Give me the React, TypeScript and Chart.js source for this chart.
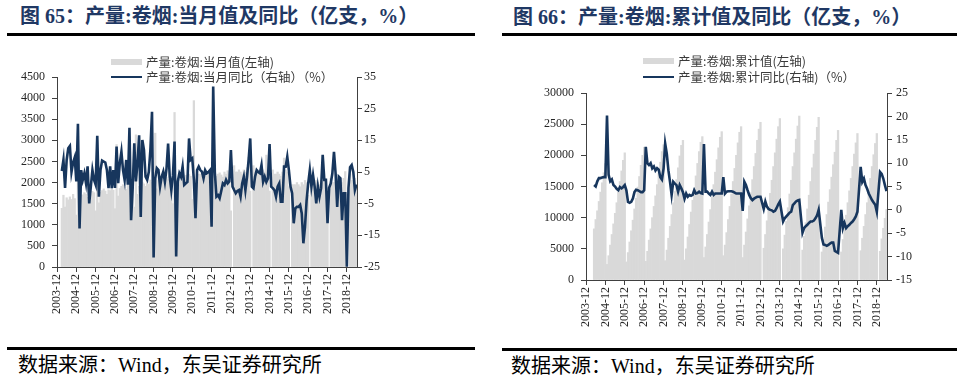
import React, { useEffect, useRef } from 'react';
import { Chart, registerables } from 'chart.js';

Chart.register(...registerables);

// ---------- categories / tick labels ----------
const xTickLabels = [
  '2003-12', '2004-12', '2005-12', '2006-12', '2007-12', '2008-12', '2009-12', '2010-12',
  '2011-12', '2012-12', '2013-12', '2014-12', '2015-12', '2016-12', '2017-12', '2018-12',
];
const leftTicksMonthly = [0, 500, 1000, 1500, 2000, 2500, 3000, 3500, 4000, 4500];
const rightTicksMonthly = [-25, -15, -5, 5, 15, 25, 35];
const leftTicksCumulative = [0, 5000, 10000, 15000, 20000, 25000, 30000];
const rightTicksCumulative = [-15, -10, -5, 0, 5, 10, 15, 20, 25];

// first month of each series
const monthlyStart = '2004-03';
const cumulativeStart = '2004-05';
const axisEnd = '2019-06';

// ---------- 图65: 当月值 (亿支) ----------
const monthlyOutput = [
  1390, 1700, 1420, 1640, 1590, 1660, 1600, 1720, 1620, 1230,
  2450, 1380, 1700, 1710, 1760, 1730, 1650, 1780, 1720, 1790, 1760, 1330,
  3000, 1520, 1770, 1810, 1850, 1800, 1720, 1830, 1810, 1880, 1820, 1380,
  2900, 1680, 1860, 1910, 1950, 1890, 1840, 1970, 1910, 1990, 1930, 1420,
  3130, 1720, 1910, 1960, 2010, 1970, 1910, 2020, 1960, 2060, 2000, 1150,
  3170, 1850, 2050, 2080, 2100, 2060, 2000, 2120, 2080, 2150, 2100, 1500,
  3660, 1500, 2100, 2150, 2150, 2100, 2050, 2170, 2120, 2200, 2150, 1600,
  3940, 1900, 2150, 2200, 2200, 2150, 2100, 2200, 2160, 2230, 2180, 1450,
  3900, 2000, 2150, 2200, 2230, 2180, 2130, 2250, 2200, 2280, 2230, 1330,
  null, 2400, 2250, 2250, 2300, 2250, 2200, 2300, 2250, 2350, 2600, 1800,
  null, 2400, 2250, 2250, 2300, 2250, 2200, 2300, 2250, 2650, 2300, 1800,
  null, 2300, 2200, 2200, 2250, 2200, 2150, 2250, 2580, 2300, 2250, 1900,
  null, 1950, 1950, 1950, 2000, 1950, 1900, 2000, 1950, 2050, 2000, 1700,
  null, 2050, 2000, 2000, 2050, 2000, 1950, 2050, 2000, 2100, 2050, 1700,
  null, 2100, 2000, 2000, 2050, 2000, 1950, 2050, 2000, 2100, 2260, 1550,
  null, 2200, 2050, 2000, 2100, 1950,
];

// 当月同比 (%)
const monthlyYoY = [
  5.3, 8.8, 0.0, 8.8, 12.5, 13.2, 5.0, 8.0, 9.6, 2.0,
  20.2, -12.8, 5.6, 2.5, 4.6, 1.5, 6.8, -4.9, 0.4, 5.6, 2.5, 1.0,
  16.4, -2.8, 5.6, 8.6, 8.3, 8.0, 5.6, -0.1, 6.8, -0.1, 5.6, 0.0,
  13.0, 1.5, 7.8, 11.4, 5.6, 2.5, 8.8, 1.0, 19.0, -10.2, 0.0, 14.1,
  2.0, 8.0, 16.6, -9.2, 15.1, 12.0, 3.5, 2.5, 5.0, 12.0, 24.0, -22.0,
  3.0, 6.2, 5.6, 0.4, 3.5, 5.1, 1.9, 6.0, 14.0, 3.5, -0.7, 4.0,
  14.6, -21.7, 2.0, 4.6, 3.5, 6.7, 0.9, 1.4, 1.9, 15.6, 8.8, 9.3,
  2.5, -9.6, 5.6, 6.7, 5.6, 5.1, 3.0, 5.6, 4.6, 5.0, 5.6, -12.3,
  32.0, 5.0, -2.8, -2.3, -3.3, -1.0, 1.4, 0.9, 2.5, 1.4, 2.0, 11.9,
  0.4, -0.7, -1.7, -1.0, -0.7, -2.8, 1.4, 3.5, -0.7, 3.5, 8.8, 15.6,
  0.4, -0.1, 3.5, 5.6, 5.0, 4.6, 7.2, 1.9, 3.5, 1.9, 3.0, 13.8,
  0.4, -0.1, -0.7, -2.8, 0.4, 1.4, -4.4, -4.4, 6.7, 6.7, 9.8, 5.6,
  0.4, -1.7, -11.2, -6.5, -6.0, -6.0, -5.4, -8.1, -17.5, -12.3, -4.0, 1.4,
  5.6, 0.4, 4.0, 0.4, -4.9, 0.4, -2.8, -0.1, 10.4, 2.5, 2.5, -11.2,
  0.0, 1.4, 4.6, 11.4, 4.6, -6.0, 3.5, 3.0, -10.2, -1.7, -1.7, -24.9,
  0.0, 6.5, 7.2, 5.0, -0.7, 1.0,
];

// ---------- 图66: 累计值 (亿支) ----------
const cumulativeOutput = [
  8200, 9700, 11100, 12600, 14100, 15600, 17200, 18700,
  2500, 3900, 5600, 7300, 9000, 10700, 12400, 14100, 15800, 17500, 19200, 20400,
  2900, 4400, 6100, 7900, 9600, 11400, 13100, 14900, 16600, 18400, 20000, 21300,
  3000, 4600, 6400, 8200, 10000, 11800, 13500, 15300, 17100, 18900, 20600, 21700,
  3100, 4800, 6700, 8600, 10500, 12400, 14200, 16100, 18000, 19900, 21600, 22400,
  3200, 5000, 6900, 8900, 10900, 12800, 14700, 16700, 18700, 20600, 22100, 23000,
  3600, 5300, 7300, 9300, 11300, 13300, 15300, 17300, 19300, 21200, 22900, 23800,
  3900, 5600, 7600, 9700, 11800, 13800, 15800, 17900, 20000, 22000, 23700, 24600,
  3600, 5600, 7700, 9800, 11900, 14000, 16100, 18200, 20300, 22400, 24200, 25300,
  null, 5100, 7300, 9500, 11700, 13900, 16000, 18200, 20400, 22600, 24600, 25900,
  null, 5000, 7200, 9400, 11600, 13800, 16000, 18200, 20400, 22600, 24700, 26300,
  null, 4800, 7000, 9200, 11400, 13600, 15800, 18000, 20200, 22400, 24500, 26100,
  null, 4500, 6500, 8500, 10500, 12500, 14500, 16500, 18500, 20500, 22400, 24000,
  null, 4500, 6500, 8500, 10400, 12400, 14300, 16300, 18200, 20200, 22000, 23500,
  null, 4700, 6700, 8600, 10500, 12400, 14300, 16300, 18200, 20100, 21900, 23500,
  null, 4600, 6600, 8300, 9900, 11300,
];

// 累计同比 (%)
const cumulativeYoY = [
  5.3, 5.0, 6.1, 6.8, 6.8, 6.9, 7.0, 7.0,
  20.2, 7.5, 6.1, 6.5, 5.3, 5.0, 4.5, 4.2, 4.9, 4.6, 4.9, 5.3,
  4.2, 1.7, 1.5, 1.7, 2.4, 3.8, 4.3, 4.2, 4.0, 3.8, 3.8, 4.2,
  13.5, 10.0, 9.6, 10.0, 8.9, 9.3, 8.4, 8.9, 8.6, 7.0, 6.5, 8.8,
  14.2, 12.0, 8.5, 6.0, 3.2, 6.0, 5.6, 5.3, 3.9, 5.3, 4.6, 3.8,
  2.4, 3.5, 2.8, 3.2, 3.0, 3.2, 4.2, 3.5, 3.6, 3.9, 3.6, 3.5,
  14.1, 3.9, 3.9, 3.5, 3.2, 3.9, 3.2, 3.5, 3.5, 3.5, 3.5, 3.5,
  7.0, 3.5, 3.9, 4.0, 4.0, 4.0, 3.9, 3.7, 3.5, 3.5, 3.5, 3.5,
  -0.2, 6.0, 5.3, 4.2, 3.2, 2.5, 2.1, 2.4, 2.6, 2.8, 2.8, 2.8,
  null, 0.2, 1.8, 0.7, 0.2, 0.0, -0.1, -0.4, -0.2, 0.4, 1.2, 1.8,
  null, -2.5, -1.8, -1.4, -1.0, -0.6, -0.4, 1.0, 1.4, 1.8, 2.0, 2.1,
  null, -4.9, -3.9, -3.5, -3.2, -2.8, -2.5, -2.5, -2.3, -1.8, -1.2, 0.0,
  null, -6.0, -7.4, -7.5, -7.7, -7.5, -7.2, -7.0, -7.0, -8.8, -9.0, -9.2,
  null, 0.0, -3.9, -2.8, -3.9, -3.5, -3.2, -2.8, -2.5, -2.0, -1.4, -0.4,
  null, 9.2, 6.0, 6.7, 5.3, 4.5, 3.5, 2.8, 2.1, 1.6, 1.1, -0.4,
  null, 8.1, 7.7, 6.7, 5.3, 4.0,
];

// ---------- helpers ----------
const monthIndex = (label: string) => {
  const [y, m] = label.split('-').map(Number);
  return (y - 2003) * 12 + (m - 12);
};
const toPoints = (start: string, values: (number | null)[]) => {
  const s = monthIndex(start);
  return values.map((v, i) => ({ x: s + i, y: v }));
};

const BAR = '#D9D9D9';
const NAVY = '#17365D';
const AXIS = '#404040';
const TICKTXT = '#262626';
const SERIF = '"Liberation Serif", "Times New Roman", serif';
const CJK = '"Liberation Serif", "Noto Sans CJK SC", serif';

type ComboProps = {
  left: number; top: number; width: number; height: number;
  bars: { x: number; y: number | null }[];
  line: { x: number; y: number | null }[];
  leftTicks: number[]; rightTicks: number[];
  leftW: number; rightW: number; padTop: number; xH: number;
  leftPad: number; rightPad: number;
};

function ComboChart(p: ComboProps) {
  const ref = useRef<HTMLCanvasElement | null>(null);
  useEffect(() => {
    const tickFont = { family: SERIF, size: 12 };
    const chart = new Chart(ref.current as HTMLCanvasElement, {
      type: 'bar',
      data: {
        datasets: [
          {
            type: 'line',
            data: p.line as any,
            yAxisID: 'y1',
            borderColor: NAVY,
            borderWidth: 2.6,
            pointRadius: 0,
            tension: 0,
            spanGaps: true,
            order: 0,
          } as any,
          {
            type: 'bar',
            data: p.bars as any,
            yAxisID: 'y',
            backgroundColor: BAR,
            borderWidth: 0,
            barPercentage: 1,
            categoryPercentage: 1,
            order: 1,
          } as any,
        ],
      },
      options: {
        responsive: false,
        animation: false,
        layout: { padding: { top: p.padTop, left: 0, right: 0, bottom: 0 } },
        plugins: { legend: { display: false }, tooltip: { enabled: false } },
        scales: {
          x: {
            type: 'linear',
            offset: false,
            min: 0,
            max: monthIndex(axisEnd) + 0.3,
            afterBuildTicks: (s: any) => {
              s.ticks = xTickLabels.map((l) => ({ value: monthIndex(l) }));
            },
            afterFit: (s: any) => { s.height = p.xH; s.paddingLeft = 0; s.paddingRight = 0; },
            ticks: {
              autoSkip: false,
              minRotation: 90,
              maxRotation: 90,
              padding: 2,
              font: tickFont,
              color: TICKTXT,
              callback: (v: any) => {
                const l = xTickLabels.find((t) => monthIndex(t) === v);
                return l ?? '';
              },
            },
            grid: { offset: false, drawOnChartArea: false, drawTicks: true, tickLength: 5, color: AXIS },
            border: { display: true, color: AXIS, width: 1 },
          },
          y: {
            type: 'linear',
            position: 'left',
            min: p.leftTicks[0],
            max: p.leftTicks[p.leftTicks.length - 1],
            afterBuildTicks: (s: any) => { s.ticks = p.leftTicks.map((v) => ({ value: v })); },
            afterFit: (s: any) => { s.width = p.leftW; },
            ticks: { font: tickFont, color: TICKTXT, padding: p.leftPad, callback: (v: any) => String(v) },
            grid: { drawOnChartArea: false, drawTicks: true, tickLength: 5, color: AXIS },
            border: { display: true, color: AXIS, width: 1 },
          },
          y1: {
            type: 'linear',
            position: 'right',
            min: p.rightTicks[0],
            max: p.rightTicks[p.rightTicks.length - 1],
            afterBuildTicks: (s: any) => { s.ticks = p.rightTicks.map((v) => ({ value: v })); },
            afterFit: (s: any) => { s.width = p.rightW; },
            ticks: { font: tickFont, color: TICKTXT, padding: p.rightPad, callback: (v: any) => String(v) },
            grid: { drawOnChartArea: false, drawTicks: true, tickLength: 5, color: AXIS },
            border: { display: true, color: AXIS, width: 1 },
          },
        },
      } as any,
    });
    return () => chart.destroy();
  }, []);
  return (
    <canvas
      ref={ref}
      width={p.width}
      height={p.height}
      style={{ position: 'absolute', left: p.left, top: p.top, width: p.width, height: p.height }}
    />
  );
}

const abs = (left: number, top: number, extra: React.CSSProperties = {}): React.CSSProperties => ({
  position: 'absolute', left, top, ...extra,
});

function Title({ x, cy, text }: { x: number; cy: number; text: string }) {
  return (
    <div style={abs(x, cy - 13, {
      fontFamily: CJK, fontWeight: 700, fontSize: 20, lineHeight: '26px',
      color: '#1F3864', whiteSpace: 'nowrap',
    })}>{text}</div>
  );
}

function Rule({ x1, x2, y }: { x1: number; x2: number; y: number }) {
  return <div style={abs(x1, y, { width: x2 - x1, height: 2.5, background: '#000' })} />;
}

function Source({ x, cy }: { x: number; cy: number }) {
  return (
    <div style={abs(x, cy - 13, {
      fontFamily: CJK, fontSize: 20, lineHeight: '26px', color: '#000', whiteSpace: 'nowrap',
    })}>数据来源：Wind，东吴证券研究所</div>
  );
}

function LegendRow({ x, cy, kind, text }: { x: number; cy: number; kind: 'bar' | 'line'; text: string }) {
  return (
    <>
      {kind === 'bar'
        ? <div style={abs(x, cy - 3, { width: 31, height: 6, background: BAR })} />
        : <div style={abs(x, cy - 1.25, { width: 31, height: 2.5, background: NAVY })} />}
      <div style={abs(x + 35, cy - 9, {
        fontFamily: '"Noto Sans CJK SC", sans-serif', fontSize: 12.5, lineHeight: '18px',
        color: '#3a3a3a', whiteSpace: 'nowrap',
      })}>{text}</div>
    </>
  );
}

export default function App() {
  return (
    <div style={{ position: 'absolute', left: 0, top: 0, width: 965, height: 389, background: '#fff', overflow: 'hidden' }}>
      <Title x={20} cy={16} text="图 65：产量:卷烟:当月值及同比（亿支，%）" />
      <Title x={513} cy={17} text="图 66：产量:卷烟:累计值及同比（亿支，%）" />
      <Rule x1={7} x2={475} y={33} />
      <Rule x1={502} x2={957} y={33} />

      <ComboChart
        left={0} top={40} width={470} height={300}
        bars={toPoints(monthlyStart, monthlyOutput)}
        line={toPoints(monthlyStart, monthlyYoY)}
        leftTicks={leftTicksMonthly} rightTicks={rightTicksMonthly}
        leftW={57} rightW={113} padTop={37} xH={73} leftPad={7} rightPad={2}
      />
      <ComboChart
        left={500} top={40} width={460} height={300}
        bars={toPoints(cumulativeStart, cumulativeOutput)}
        line={toPoints(cumulativeStart, cumulativeYoY)}
        leftTicks={leftTicksCumulative} rightTicks={rightTicksCumulative}
        leftW={86} rightW={73} padTop={53} xH={60} leftPad={7} rightPad={4}
      />

      <LegendRow x={111} cy={62} kind="bar" text="产量:卷烟:当月值(左轴)" />
      <LegendRow x={111} cy={77} kind="line" text="产量:卷烟:当月同比（右轴）（%）" />
      <LegendRow x={643} cy={61} kind="bar" text="产量:卷烟:累计值(左轴)" />
      <LegendRow x={643} cy={77} kind="line" text="产量:卷烟:累计同比(右轴)（%）" />

      <Rule x1={7} x2={475} y={347} />
      <Rule x1={502} x2={957} y={348} />
      <Source x={18} cy={365} />
      <Source x={511} cy={366} />
    </div>
  );
}
